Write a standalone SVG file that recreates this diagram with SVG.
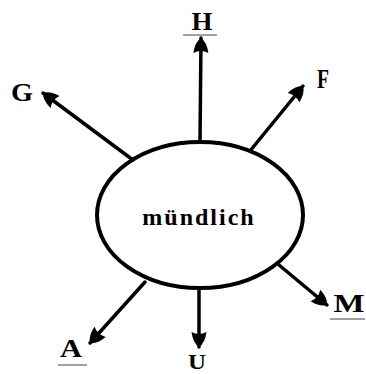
<svg xmlns="http://www.w3.org/2000/svg" width="366" height="374" viewBox="0 0 366 374">
<style>
.lbl{font-family:"Liberation Serif","Times New Roman",serif;font-weight:bold;font-size:25px;fill:#000}
.ul{stroke:#444;stroke-width:1}
.conn line{stroke:#000;stroke-width:3.5;stroke-linecap:round}
</style>
<defs>
<marker id="ah" markerUnits="userSpaceOnUse" markerWidth="22" markerHeight="18" refX="18" refY="9" orient="auto">
<path d="M18,9 Q14,3 3,1.5 Q7,9 3,16.5 Q14,15 18,9 Z" fill="#000"/>
</marker>
</defs>
<rect width="366" height="374" fill="#fff"/>
<g id="center">
<ellipse cx="200" cy="215" rx="103" ry="73" fill="none" stroke="#000" stroke-width="4"/>
<text x="199" y="225" text-anchor="middle" class="lbl" style="font-size:24px;letter-spacing:2px">mündlich</text>
</g>
<g class="conn" id="connectors">
<line x1="133" y1="160" x2="43" y2="93" marker-end="url(#ah)"/>
<line x1="200" y1="142" x2="201" y2="38" marker-end="url(#ah)"/>
<line x1="250" y1="151" x2="303" y2="86" marker-end="url(#ah)"/>
<line x1="145" y1="282" x2="90" y2="343" marker-end="url(#ah)"/>
<line x1="199" y1="290" x2="199" y2="347" marker-end="url(#ah)"/>
<line x1="279" y1="265" x2="327" y2="305" marker-end="url(#ah)"/>
</g>
<g id="G"><text x="22" y="101" text-anchor="middle" class="lbl" textLength="22" lengthAdjust="spacingAndGlyphs">G</text></g>
<g id="H"><text x="202" y="30" text-anchor="middle" class="lbl" textLength="21" lengthAdjust="spacingAndGlyphs">H</text><line x1="183" y1="35" x2="217" y2="35" class="ul"/></g>
<g id="F"><text x="323" y="88" text-anchor="middle" class="lbl" style="font-size:27px" textLength="12" lengthAdjust="spacingAndGlyphs">F</text></g>
<g id="M"><text x="349" y="312" text-anchor="middle" class="lbl" textLength="31" lengthAdjust="spacingAndGlyphs">M</text><line x1="330" y1="319" x2="365" y2="319" class="ul"/></g>
<g id="A"><text x="71" y="357" text-anchor="middle" class="lbl" textLength="22" lengthAdjust="spacingAndGlyphs">A</text><line x1="58" y1="365" x2="87" y2="365" class="ul"/></g>
<g id="U"><text x="197" y="369" text-anchor="middle" class="lbl" style="font-size:22px" textLength="18" lengthAdjust="spacingAndGlyphs">U</text></g>
</svg>
